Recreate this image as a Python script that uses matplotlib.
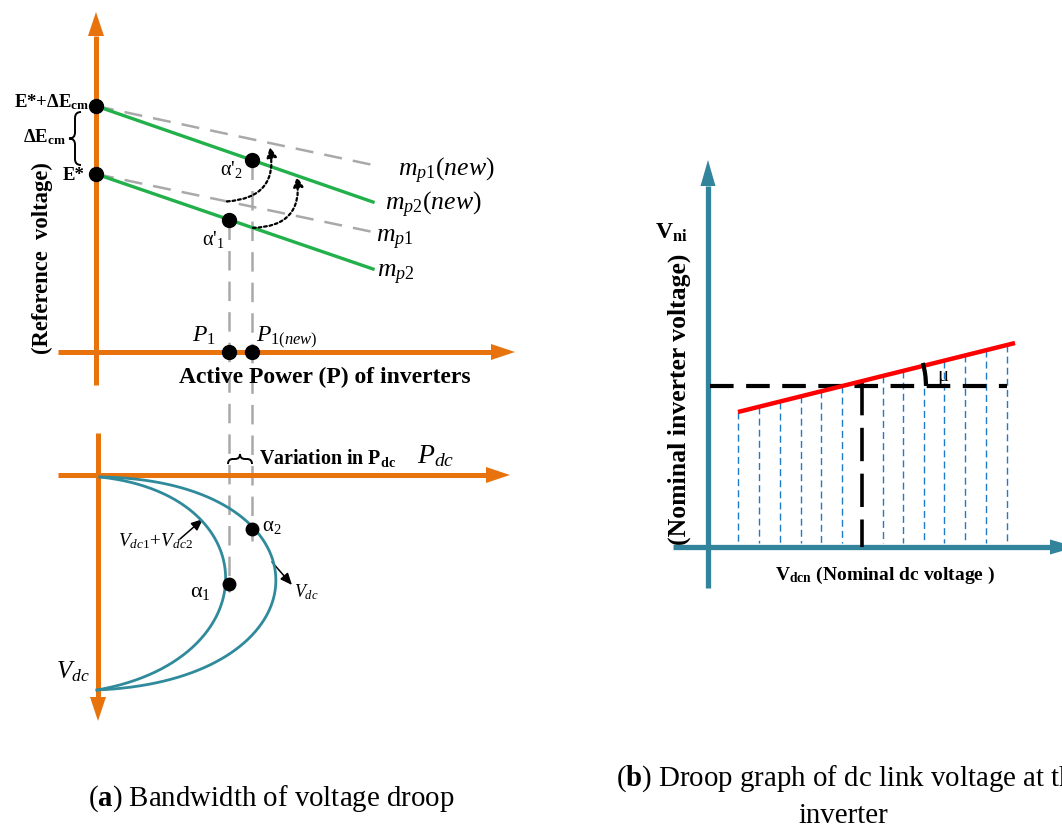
import numpy as np
import matplotlib
matplotlib.use('Agg')
import matplotlib.pyplot as plt
from matplotlib.patches import Polygon, Arc, PathPatch
from matplotlib.path import Path

plt.rcParams['font.family'] = ['Liberation Serif', 'DejaVu Serif']
plt.rcParams['mathtext.fontset'] = 'custom'
plt.rcParams['mathtext.rm'] = 'Liberation Serif'
plt.rcParams['mathtext.it'] = 'Liberation Serif:italic'
plt.rcParams['mathtext.bf'] = 'Liberation Serif:bold'
plt.rcParams['lines.scale_dashes'] = False

# ---------------- data (canvas units, y grows downwards) ----------------
# panel (a) upper: droop characteristics
droop_P = [96, 373]                 # P range of droop lines
droop_E0 = [106, 174]               # E*+dEcm , E*
green_end = [202, 269]              # mp2(new), mp2 end values
gray_end = [165, 232]               # mp1(new), mp1 end values
P_ops = [229, 252]                  # P1, P1(new)
alpha_dc_y = [584, 529]             # alpha1, alpha2 on Pdc-Vdc curves
# panel (a) lower: Pdc-Vdc curves (cubic Bezier control points)
curve_inner = [(100, 477), (268, 495), (268, 660), (97, 690)]
curve_outer = [(100, 477), (335, 480), (335, 680), (97, 690)]
# panel (b)
Vdcn_range = [738, 1015]
Vni_range = [412, 343]
blue_x = [738, 759, 780, 801, 821, 842, 883, 903, 924, 944, 965, 986, 1007]
Vdcn_nom = 862
Vni_nom = 386

ORANGE = '#E8720C'
GREEN = '#22B04B'
GRAY = '#A9A9A9'
TEAL = '#2F8A9C'
TEAL_B = '#31849B'
RED = '#FF0000'
BLUE = '#1F7AC8'

W, H = 1062, 825
fig = plt.figure(figsize=(W / 100, H / 100), dpi=100)
ax = fig.add_axes([0, 0, 1, 1])
ax.set_xlim(0, W)
ax.set_ylim(H, 0)
ax.axis('off')


def arrow(x0, y0, x1, y1, color, lw, hw, hl, z=3):
    d = np.array([x1 - x0, y1 - y0], float)
    u = d / np.hypot(*d)
    n = np.array([-u[1], u[0]])
    base = np.array([x1, y1]) - u * hl
    ax.plot([x0, base[0]], [y0, base[1]], color=color, lw=lw,
            solid_capstyle='butt', zorder=z)
    tri = [(x1, y1), base + n * hw / 2, base - n * hw / 2]
    ax.add_patch(Polygon(tri, closed=True, color=color, lw=0, zorder=z))


def brace(p0, p1, nrm, d, lw=1.4):
    p0 = np.array(p0, float); p1 = np.array(p1, float)
    u = (p1 - p0) / np.hypot(*(p1 - p0))
    n = np.array(nrm, float)
    pm = (p0 + p1) / 2
    verts = [p0 - n * d, p0, p0 + u * d, pm - u * d, pm, pm + n * d,
             pm, pm + u * d, p1 - u * d, p1, p1 - n * d]
    codes = [Path.MOVETO, Path.CURVE3, Path.CURVE3, Path.LINETO,
             Path.CURVE3, Path.CURVE3, Path.CURVE3, Path.CURVE3,
             Path.LINETO, Path.CURVE3, Path.CURVE3]
    ax.add_patch(PathPatch(Path(verts, codes), fc='none', ec='black', lw=lw,
                           zorder=5))


def bezier(P, n=300):
    P = np.asarray(P, float)
    t = np.linspace(0, 1, n)[:, None]
    return ((1 - t) ** 3 * P[0] + 3 * (1 - t) ** 2 * t * P[1]
            + 3 * (1 - t) * t ** 2 * P[2] + t ** 3 * P[3])


# ================= panel (a) upper =================
arrow(96, 385, 96, 12, ORANGE, 3.6, 16, 24)
arrow(58, 352, 515, 352, ORANGE, 3.6, 16, 24)

for e0, ge, gr in zip(droop_E0, green_end, gray_end):
    ax.plot(droop_P, [e0, gr], color=GRAY, lw=1.8, dashes=(13, 8), zorder=2)
    ax.plot(droop_P, [e0, ge], color=GREEN, lw=2.4, zorder=3)
    ax.plot(droop_P[0], e0, 'o', color='black', ms=10, zorder=6)

# operating points on the droop lines
y_a1 = np.interp(P_ops[0], droop_P, [droop_E0[1], green_end[1]])
y_a2 = np.interp(P_ops[1], droop_P, [droop_E0[0], green_end[0]])
ax.plot([P_ops[0], P_ops[1]], [y_a1, y_a2], 'o', color='black', ms=10, zorder=6)
ax.plot(P_ops, [352, 352], 'o', color='black', ms=10, zorder=6)

# vertical projection lines
ax.plot([P_ops[0]] * 2, [y_a1, alpha_dc_y[0] + 8], color=GRAY, lw=1.8,
        dashes=(14, 8), zorder=2)
ax.plot([P_ops[1]] * 2, [y_a2, alpha_dc_y[1] + 12], color=GRAY, lw=1.8,
        dashes=(14, 8), zorder=2)

# dotted curved arrows (droop shifts)
s1x = 227
s1y = np.interp(s1x, droop_P, [droop_E0[1], gray_end[1]])
e1x = 270
e1y = np.interp(e1x, droop_P, [droop_E0[0], gray_end[0]]) + 4
s2x = 253
s2y = np.interp(s2x, droop_P, [droop_E0[1], green_end[1]])
e2x = 297
e2y = np.interp(e2x, droop_P, [droop_E0[0], green_end[0]]) + 1
for (sx, sy, ex, ey) in [(s1x, s1y, e1x, e1y), (s2x, s2y, e2x, e2y)]:
    ax.annotate('', xy=(ex, ey), xytext=(sx, sy),
                arrowprops=dict(arrowstyle='-|>,head_length=0.6,head_width=0.3',
                                connectionstyle='arc3,rad=0.55', color='black',
                                lw=1.6, ls=(0, (2, 2)), shrinkA=0, shrinkB=0),
                zorder=7)

# labels upper panel
ax.text(90, 102, r'E*+Δ$\mathbf{E_{cm}}$', fontsize=13.5, fontweight='bold',
        ha='right', va='center')
ax.text(66, 137, r'Δ$\mathbf{E_{cm}}$', fontsize=13.5, fontweight='bold',
        ha='right', va='center')
ax.text(85, 176, 'E*', fontsize=13.5, fontweight='bold', ha='right',
        va='center')
brace((75, 112), (75, 165), (-1, 0), 6)

ax.text(398, 171, r'$\mathit{m_{p1}(new)}$', fontsize=18.5, ha='left',
        va='center')
ax.text(385, 205, r'$\mathit{m_{p2}(new)}$', fontsize=18.5, ha='left',
        va='center')
ax.text(376, 240, r'$\mathit{m_{p1}}$', fontsize=18.5, ha='left', va='center')
ax.text(377, 275, r'$\mathit{m_{p2}}$', fontsize=18.5, ha='left', va='center')
ax.text(220, 170, "α'$_2$", fontsize=14.5, ha='left', va='center')
ax.text(202, 240, "α'$_1$", fontsize=14.5, ha='left', va='center')
ax.text(192, 336, r'$\mathit{P_1}$', fontsize=17, ha='left', va='center')
ax.text(256, 338, r'$\mathit{P_{1(new)}}$', fontsize=17, ha='left',
        va='center')
ax.text(325, 377, 'Active Power (P) of inverters', fontsize=17,
        fontweight='bold', ha='center', va='center')
ax.text(42, 258, '(Reference  voltage)', fontsize=16.3, fontweight='bold',
        rotation=90, ha='center', va='center')

# ================= panel (a) lower =================
arrow(58, 475, 510, 475, ORANGE, 3.6, 16, 24)
arrow(98, 433, 98, 721, ORANGE, 3.6, 16, 24)

for P in (curve_inner, curve_outer):
    c = bezier(P)
    ax.plot(c[:, 0], c[:, 1], color=TEAL, lw=2.0, zorder=4)
ax.plot(P_ops, alpha_dc_y, 'o', color='black', ms=9, zorder=6)

ax.text(190, 593, 'α$_1$', fontsize=16, ha='left', va='center')
ax.text(262, 527, 'α$_2$', fontsize=15, ha='left', va='center')
ax.text(118, 541, r'$\mathit{V_{dc1}\!+\!V_{dc2}}$', fontsize=13.7,
        ha='left', va='center')
ax.annotate('', xy=(203, 519), xytext=(180, 539),
            arrowprops=dict(arrowstyle='-|>,head_length=0.7,head_width=0.3',
                            color='black', lw=1.1, shrinkA=0, shrinkB=0))
ax.text(294, 592, r'$\mathit{V_{dc}}$', fontsize=13, ha='left', va='center')
ax.annotate('', xy=(292, 585), xytext=(272, 562),
            arrowprops=dict(arrowstyle='-|>,head_length=0.7,head_width=0.3',
                            color='black', lw=1.1, shrinkA=0, shrinkB=0))
ax.text(56, 672, r'$\mathit{V_{dc}}$', fontsize=18, ha='left', va='center')
ax.text(417, 456, r'$\mathit{P_{dc}}$', fontsize=20, ha='left', va='center')
ax.text(259, 458, r'Variation in $\mathbf{P_{dc}}$', fontsize=14.4,
        fontweight='bold', ha='left', va='center')
brace((P_ops[0] - 1, 459), (P_ops[1], 459), (0, -1), 5)

# ================= panel (b) =================
arrow(708, 588, 708, 160, TEAL_B, 3.8, 15, 26)
arrow(673, 547, 1076, 547, TEAL_B, 3.8, 15, 26)

for bx in blue_x:
    top = np.interp(bx, Vdcn_range, Vni_range)
    ax.plot([bx, bx], [top, 543], color=BLUE, lw=1.0, dashes=(5, 3), zorder=2)
ax.plot(Vdcn_range, Vni_range, color=RED, lw=3.2, zorder=5,
        solid_capstyle='butt')
ax.plot([710, 1007], [Vni_nom, Vni_nom], color='black', lw=3.0,
        dashes=(17, 9), zorder=4)
ax.plot([Vdcn_nom, Vdcn_nom], [382, 547], color='black', lw=2.6,
        dashes=(24, 9), zorder=4)
# angle mark mu
vx = np.interp(Vni_nom, Vni_range[::-1], Vdcn_range[::-1])
ang = np.degrees(np.arctan2(Vni_range[0] - Vni_range[1],
                            Vdcn_range[1] - Vdcn_range[0]))
ax.add_patch(Arc((vx, Vni_nom), 2 * (926 - vx), 2 * (926 - vx),
                 theta1=-ang - 2, theta2=0, color='black', lw=3.0, zorder=6))
ax.text(937, 376, 'μ', fontsize=15, ha='left', va='center')

ax.text(655, 233, r'$\mathbf{V_{ni}}$', fontsize=17, ha='left', va='center')
ax.text(679, 399, '(Nominal inverter voltage)', fontsize=18.5,
        fontweight='bold', rotation=90, ha='center', va='center')
ax.text(885, 575, r'$\mathbf{V_{dcn}}$ (Nominal dc voltage )', fontsize=14,
        fontweight='bold', ha='center', va='center')

# ================= captions =================
ax.text(271, 799, r'($\mathbf{a}$) Bandwidth of voltage droop',
        fontsize=20.8, ha='center', va='center')
ax.text(616, 779, r'($\mathbf{b}$) Droop graph of dc link voltage at the',
        fontsize=20.8, ha='left', va='center')
ax.text(843, 816, 'inverter', fontsize=20.8, ha='center', va='center')

fig.savefig('out.png', dpi=100)
